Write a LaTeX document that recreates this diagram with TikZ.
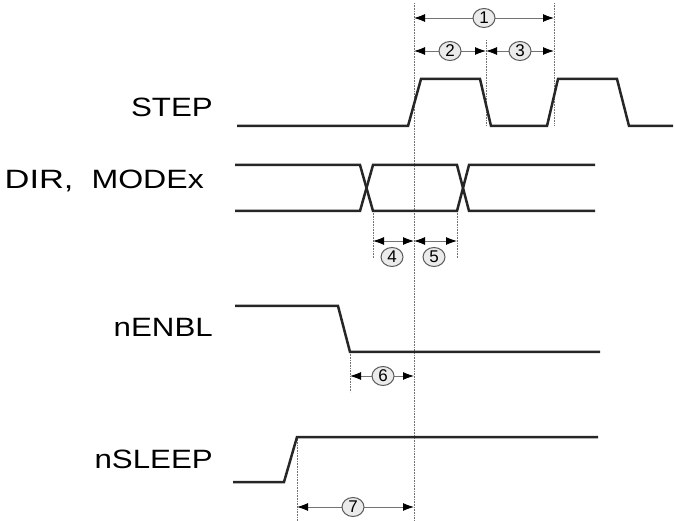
\documentclass[tikz,border=0pt]{standalone}
\usepackage{fontspec}
\setmainfont{Liberation Sans}
\usetikzlibrary{arrows.meta,shapes.geometric}
\begin{document}
\begin{tikzpicture}[x=1pt,y=-1pt,
 sig/.style={line width=2.5pt, line join=miter, black!85},
 guide/.style={densely dotted, line width=0.6pt, black!55},
 dim/.style={line width=0.9pt, black!55, {Latex[length=11pt,width=8pt,black]}-{Latex[length=11pt,width=8pt,black]}},
 lbl/.style={anchor=base east, inner sep=0, font=\fontsize{26.5}{26.5}\selectfont},
 num/.style={ellipse, draw=black!65, fill=black!8, line width=1pt, inner sep=0, minimum width=22pt, minimum height=19pt, font=\fontsize{17}{17}\selectfont}
]
\useasboundingbox (0,0) rectangle (675,521);

% labels
\node[lbl] (lstep) at (213,117) {\scalebox{1.18}[1]{STEP}};
\node[lbl] (ldir) at (204,189) {\scalebox{1.3}[1]{DIR,}\hspace{18pt}\scalebox{1.21}[1]{MODEx}};
\node[lbl] (lenbl) at (213,337) {\scalebox{1.18}[1]{nENBL}};
\node[lbl] (lsleep) at (213,468) {\scalebox{1.18}[1]{nSLEEP}};

% guides
\draw[guide] (414,3) -- (414,521);
\draw[guide] (486,40) -- (486,125);
\draw[guide] (554,3) -- (554,125);
\draw[guide] (373,211) -- (373,258);
\draw[guide] (457,211) -- (457,258);
\draw[guide] (350,352) -- (350,392);
\draw[guide] (297,437) -- (297,521);

% signals
\draw[sig] (237,126) -- (408,126) -- (421,79) -- (480,79) -- (491,126) -- (547,126) -- (558,79) -- (617,79) -- (629,126) -- (673,126);
\draw[sig] (235,165) -- (360,165) -- (373,211) -- (457,211) -- (469,165) -- (595,165);
\draw[sig] (235,211) -- (360,211) -- (373,165) -- (457,165) -- (469,211) -- (595,211);
\draw[sig] (235,306) -- (338,306) -- (350,352) -- (600,352);
\draw[sig] (233,482) -- (284,482) -- (297,437) -- (598,437);

% dimension end points
\coordinate (a1l) at (414,18); \coordinate (a1r) at (554,18);
\coordinate (a2l) at (414,51); \coordinate (a2r) at (486,51);
\coordinate (a3l) at (486,51); \coordinate (a3r) at (554,51);
\coordinate (a4l) at (373,241); \coordinate (a4r) at (414,241);
\coordinate (a5l) at (414,241); \coordinate (a5r) at (457,241);
\coordinate (a6l) at (350,376); \coordinate (a6r) at (414,376);
\coordinate (a7l) at (297,507); \coordinate (a7r) at (414,507);

\draw[dim] (a1l) -- (a1r);
\draw[dim] (a2l) -- (a2r);
\draw[dim] (a3l) -- (a3r);
\draw[dim] (a4l) -- (a4r);
\draw[dim] (a5l) -- (a5r);
\draw[dim] (a6l) -- (a6r);
\draw[dim] (a7l) -- (a7r);

% numbers
\node[num] (n1) at (484,18) {1};
\node[num] (n2) at (450,51) {2};
\node[num] (n3) at (520,51) {3};
\node[num] (n4) at (392,257) {4};
\node[num] (n5) at (434,257) {5};
\node[num] (n6) at (383,376) {6};
\node[num] (n7) at (353,507) {7};
\end{tikzpicture}
\end{document}
